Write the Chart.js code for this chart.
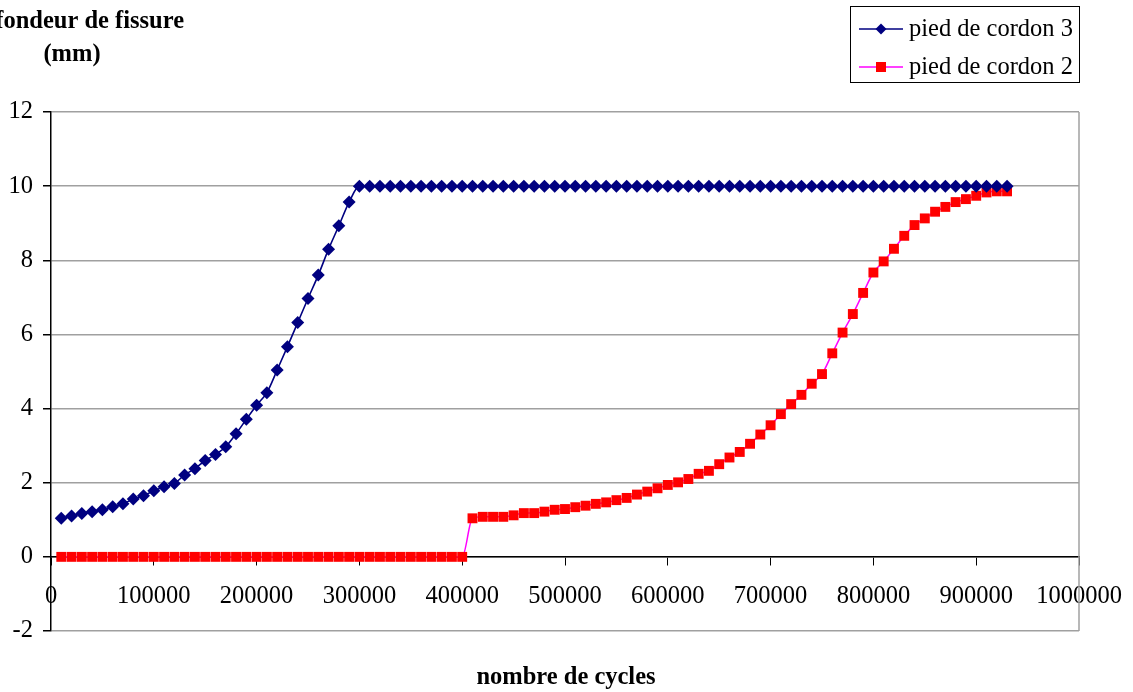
<!DOCTYPE html>
<html>
<head>
<meta charset="utf-8">
<script src="https://cdn.jsdelivr.net/npm/chart.js@4.4.1/dist/chart.umd.min.js"></script>
<style>
  html, body { margin: 0; background: #fff; }
  #wrap { position: relative; width: 1133px; height: 692px; }
</style>
</head>
<body>
<div id="wrap"><canvas id="chart" width="1133" height="692"></canvas></div>
<script>
// number of cycles, shared by both series
const cycles = [
  10000, 20000, 30000, 40000, 50000, 60000, 70000, 80000, 90000, 100000,
  110000, 120000, 130000, 140000, 150000, 160000, 170000, 180000, 190000, 200000,
  210000, 220000, 230000, 240000, 250000, 260000, 270000, 280000, 290000, 300000,
  310000, 320000, 330000, 340000, 350000, 360000, 370000, 380000, 390000, 400000,
  410000, 420000, 430000, 440000, 450000, 460000, 470000, 480000, 490000, 500000,
  510000, 520000, 530000, 540000, 550000, 560000, 570000, 580000, 590000, 600000,
  610000, 620000, 630000, 640000, 650000, 660000, 670000, 680000, 690000, 700000,
  710000, 720000, 730000, 740000, 750000, 760000, 770000, 780000, 790000, 800000,
  810000, 820000, 830000, 840000, 850000, 860000, 870000, 880000, 890000, 900000,
  910000, 920000, 930000
];

// crack depth (mm), weld toe 3
const cordon3 = [
  1.04, 1.10, 1.17, 1.22, 1.27, 1.35, 1.43, 1.56, 1.65, 1.78,
  1.89, 1.98, 2.21, 2.38, 2.60, 2.76, 2.97, 3.32, 3.71, 4.09,
  4.43, 5.04, 5.67, 6.32, 6.97, 7.60, 8.30, 8.93, 9.57, 10,
  10, 10, 10, 10, 10, 10, 10, 10, 10, 10,
  10, 10, 10, 10, 10, 10, 10, 10, 10, 10,
  10, 10, 10, 10, 10, 10, 10, 10, 10, 10,
  10, 10, 10, 10, 10, 10, 10, 10, 10, 10,
  10, 10, 10, 10, 10, 10, 10, 10, 10, 10,
  10, 10, 10, 10, 10, 10, 10, 10, 10, 10,
  10, 10, 10
];

// crack depth (mm), weld toe 2
const cordon2 = [
  0, 0, 0, 0, 0, 0, 0, 0, 0, 0,
  0, 0, 0, 0, 0, 0, 0, 0, 0, 0,
  0, 0, 0, 0, 0, 0, 0, 0, 0, 0,
  0, 0, 0, 0, 0, 0, 0, 0, 0, 0,
  1.04, 1.08, 1.08, 1.08, 1.12, 1.18, 1.18, 1.22, 1.27, 1.29,
  1.34, 1.38, 1.43, 1.47, 1.53, 1.59, 1.68, 1.76, 1.85, 1.94,
  2.01, 2.10, 2.24, 2.32, 2.50, 2.68, 2.83, 3.05, 3.30, 3.55,
  3.85, 4.12, 4.37, 4.67, 4.93, 5.49, 6.05, 6.55, 7.12, 7.67,
  7.97, 8.31, 8.66, 8.95, 9.13, 9.31, 9.44, 9.57, 9.65, 9.74,
  9.83, 9.86, 9.86
];

const seriesNames = ['pied de cordon 3', 'pied de cordon 2'];
const yTitle = ['Profondeur de fissure', '(mm)'];
const xTitle = 'nombre de cycles';

const NAVY = '#000080';
const RED = '#ff0000';
const MAGENTA = '#ff00ff';
const GRID = '#a0a0a0';
const FONT = '"Liberation Serif", "Times New Roman", serif';
const SIZE = 24.5;

function diamond(ctx, x, y, r) {
  ctx.beginPath();
  ctx.moveTo(x - r, y); ctx.lineTo(x, y - r); ctx.lineTo(x + r, y); ctx.lineTo(x, y + r);
  ctx.closePath(); ctx.fill();
}

// titles, right plot border and the boxed legend
const decor = {
  id: 'decor',
  beforeDatasetsDraw(chart) {
    const { ctx, chartArea: a } = chart;
    ctx.save();
    ctx.strokeStyle = GRID;
    ctx.lineWidth = 1.5;
    ctx.beginPath(); ctx.moveTo(a.right, a.top); ctx.lineTo(a.right, a.bottom); ctx.stroke();
    ctx.restore();
  },
  afterDraw(chart) {
    const ctx = chart.ctx;
    ctx.save();
    ctx.fillStyle = '#000';
    ctx.textBaseline = 'middle';
    ctx.font = 'bold ' + SIZE + 'px ' + FONT;
    ctx.textAlign = 'right';
    ctx.fillText(yTitle[0], 184, 22);
    ctx.textAlign = 'center';
    ctx.fillText(yTitle[1], 72, 55);
    ctx.fillText(xTitle, 566, 678);

    // legend
    ctx.strokeStyle = '#000';
    ctx.lineWidth = 1;
    ctx.strokeRect(850.5, 6.5, 229, 76);
    const rows = [
      { y: 29, line: NAVY, fill: NAVY, shape: 'diamond' },
      { y: 67, line: MAGENTA, fill: RED, shape: 'square' },
    ];
    ctx.font = SIZE + 'px ' + FONT;
    ctx.textAlign = 'left';
    rows.forEach((r, i) => {
      ctx.strokeStyle = r.line;
      ctx.lineWidth = 1.5;
      ctx.beginPath(); ctx.moveTo(859, r.y); ctx.lineTo(903, r.y); ctx.stroke();
      ctx.fillStyle = r.fill;
      if (r.shape === 'diamond') diamond(ctx, 881, r.y, 5.5);
      else ctx.fillRect(876, r.y - 5, 10, 10);
      ctx.fillStyle = '#000';
      ctx.fillText(seriesNames[i], 909, r.y + 1);
    });
    ctx.restore();
  },
};

new Chart(document.getElementById('chart'), {
  type: 'line',
  data: {
    datasets: [
      {
        label: seriesNames[0],
        data: cycles.map((x, i) => ({ x, y: cordon3[i] })),
        borderColor: NAVY,
        backgroundColor: NAVY,
        borderWidth: 1.6,
        pointStyle: 'rectRot',
        pointRadius: 6.5,
        pointBorderWidth: 0,
        cubicInterpolationMode: 'monotone',
      },
      {
        label: seriesNames[1],
        data: cycles.map((x, i) => ({ x, y: cordon2[i] })),
        borderColor: MAGENTA,
        backgroundColor: RED,
        borderWidth: 1.5,
        pointStyle: 'rect',
        pointRadius: 7,
        pointBorderWidth: 0,
        cubicInterpolationMode: 'monotone',
      },
    ],
  },
  options: {
    responsive: false,
    animation: false,
    layout: { padding: { left: 0, top: 112, right: 54, bottom: 61 } },
    plugins: { legend: { display: false }, tooltip: { enabled: false } },
    scales: {
      x: {
        type: 'linear',
        min: 0, max: 1000000,
        position: { y: 0 },
        ticks: {
          stepSize: 100000, autoSkip: false, maxRotation: 0,
          color: '#000', padding: 17, font: { family: FONT, size: SIZE },
          callback: v => String(v),
        },
        grid: { drawOnChartArea: false, drawTicks: true, tickLength: 8, tickColor: '#000', color: '#000' },
        border: { color: '#000', width: 1.5 },
        // the last label may overhang the plot border, as in the original
        afterFit(s) { s.paddingLeft = 0; s.paddingRight = 0; },
      },
      y: {
        min: -2, max: 12,
        ticks: { stepSize: 2, color: '#000', padding: 10, font: { family: FONT, size: SIZE } },
        grid: { color: GRID, lineWidth: 1.5, tickColor: '#000', tickLength: 8 },
        border: { color: '#000', width: 1.5 },
        afterFit(s) { s.width = 51; },
      },
    },
  },
  plugins: [decor],
});
</script>
</body>
</html>
